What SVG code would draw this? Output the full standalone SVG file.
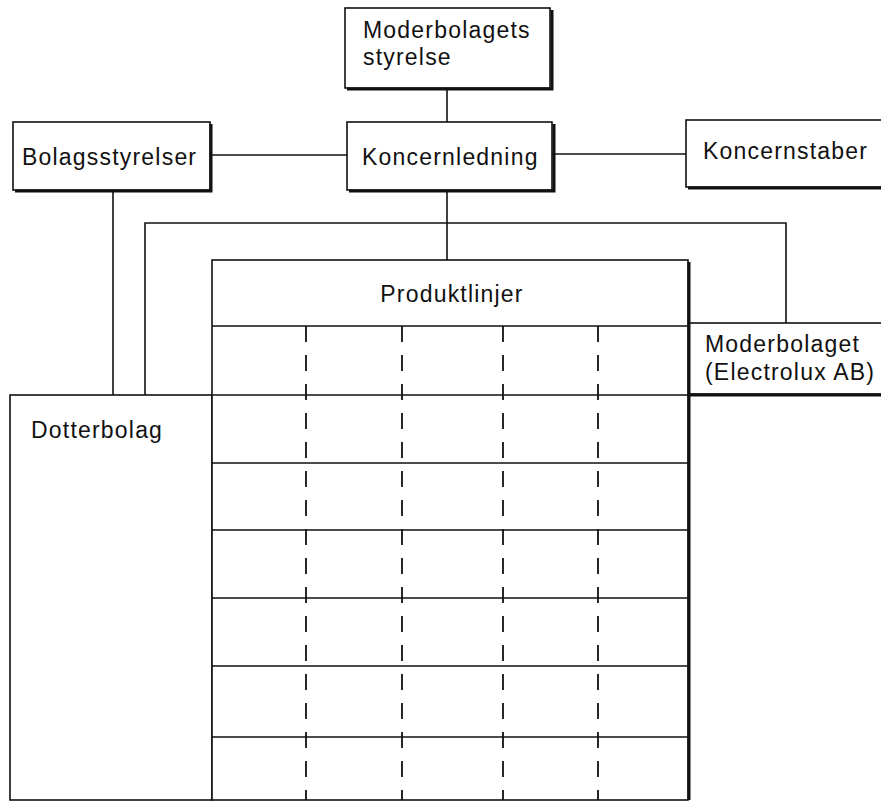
<svg xmlns="http://www.w3.org/2000/svg" width="881" height="804" viewBox="0 0 881 804">
<style>
.box{fill:#fff;stroke:#111;stroke-width:1.6}
.sh{fill:none;stroke:#111;stroke-width:3}
.ln{fill:none;stroke:#111;stroke-width:1.6}
.ds{fill:none;stroke:#111;stroke-width:1.8;stroke-dasharray:16 13}
text{font-family:"Liberation Sans",Arial,sans-serif;font-size:23px;letter-spacing:1.2px;fill:#111}
</style>
<rect width="881" height="804" fill="#fff"/>
<g id="connectors">
<path class="ln" d="M447 88V122"/>
<path class="ln" d="M210 155H347"/>
<path class="ln" d="M552 154H686"/>
<path class="ln" d="M447 190V260"/>
<path class="ln" d="M145 395V223H786V323"/>
<path class="ln" d="M113 190V395"/>
</g>
<g id="moderbolagets-styrelse">
<rect class="box" x="345" y="8" width="205" height="80"/>
<path class="sh" d="M552 10V89H347"/>
<text x="363" y="38">Moderbolagets</text>
<text x="363" y="65">styrelse</text>
</g>
<g id="koncernledning">
<rect class="box" x="347" y="122" width="205" height="68"/>
<path class="sh" d="M554 124V191H349"/>
<text x="362" y="165">Koncernledning</text>
</g>
<g id="bolagsstyrelser">
<rect class="box" x="13" y="122" width="197" height="68"/>
<path class="sh" d="M211 124V191H15"/>
<text x="22" y="165">Bolagsstyrelser</text>
</g>
<g id="koncernstaber">
<rect class="box" x="686" y="120" width="210" height="67"/>
<path class="sh" d="M688 188H890"/>
<text x="703" y="159">Koncernstaber</text>
</g>
<g id="moderbolaget">
<rect class="box" x="688" y="323" width="210" height="71"/>
<path class="sh" d="M690 395H890"/>
<text x="705" y="352">Moderbolaget</text>
<text x="705" y="380">(Electrolux AB)</text>
</g>
<g id="dotterbolag">
<rect class="box" x="10" y="395" width="202" height="405"/>
<text x="31" y="438">Dotterbolag</text>
</g>
<g id="produktlinjer">
<rect class="box" x="212" y="260" width="476" height="540"/>
<path class="sh" d="M689 262V800"/>
<path class="ln" d="M212 326H688M212 395H688M212 463H688M212 530H688M212 598H688M212 666H688M212 737H688"/>
<path class="ds" d="M306 326V800M402 326V800M503 326V800M598 326V800"/>
<text x="452" y="302" text-anchor="middle">Produktlinjer</text>
</g>
</svg>
